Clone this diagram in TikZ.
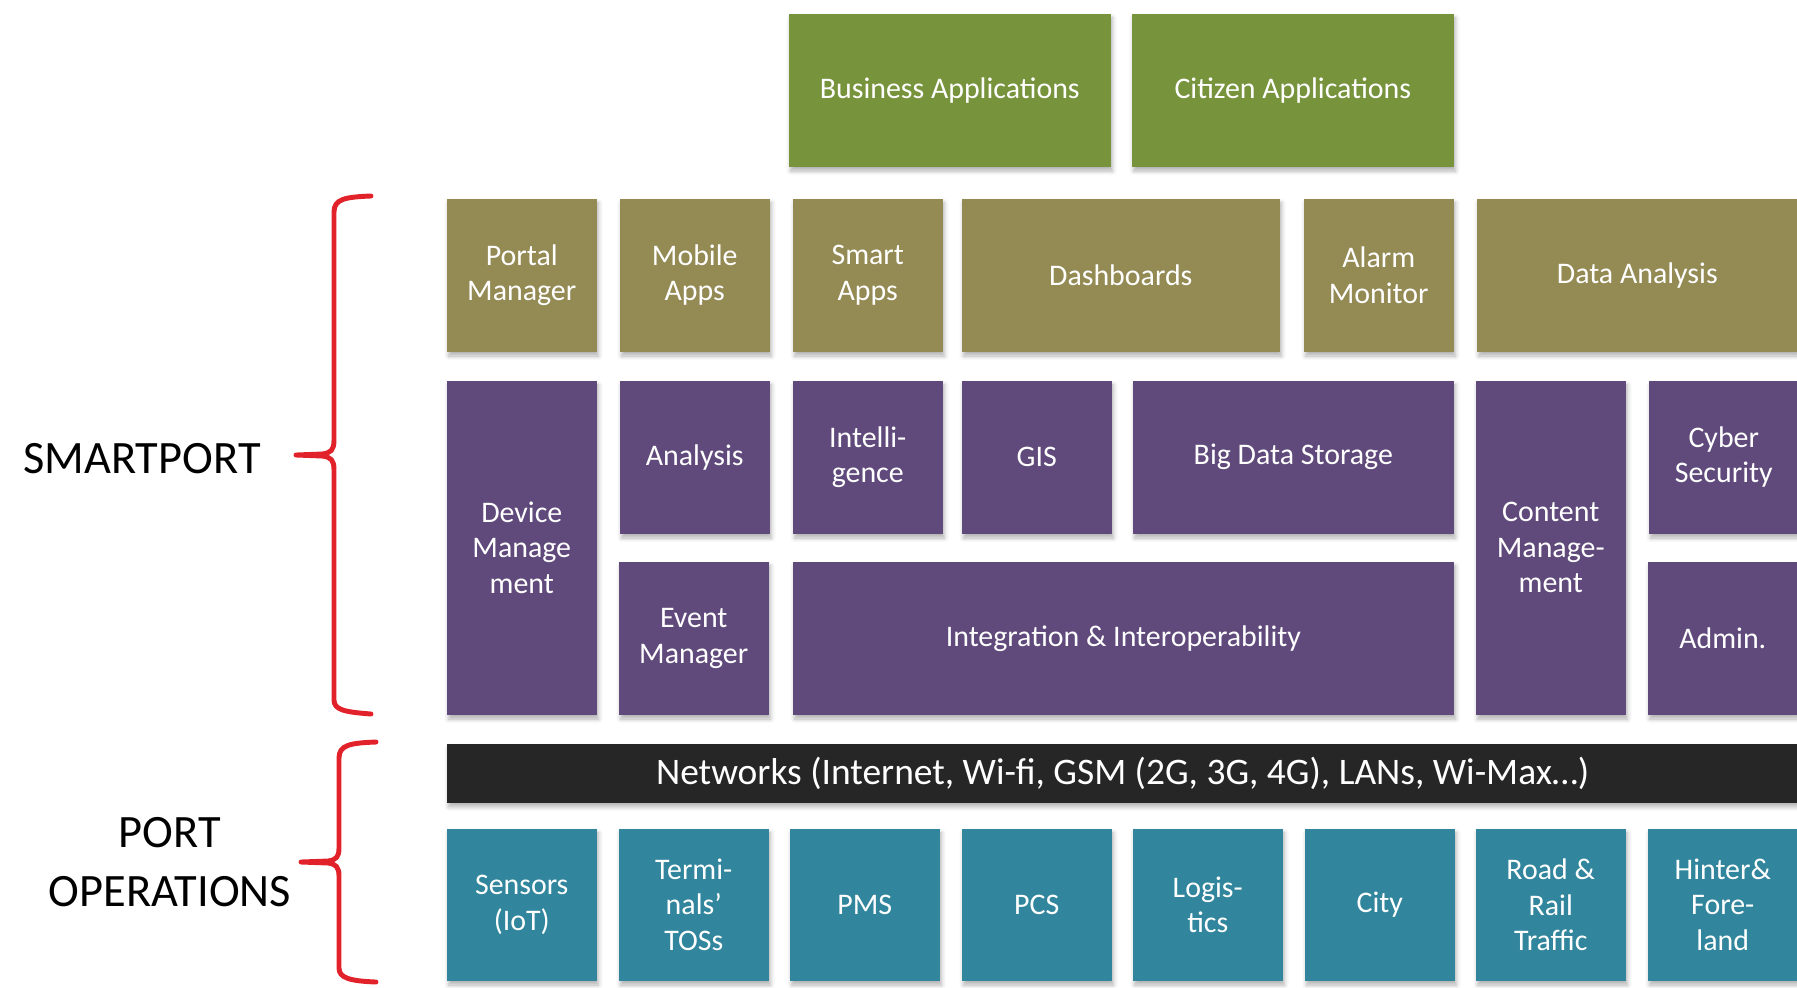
\documentclass[tikz,border=0pt]{standalone}
\usepackage{fontspec}
\setmainfont{Carlito}
\usetikzlibrary{shadows.blur}

\definecolor{appgreen}{HTML}{77933C}
\definecolor{uiolive}{HTML}{948A54}
\definecolor{corepurple}{HTML}{604A7B}
\definecolor{opsteal}{HTML}{31859C}
\definecolor{netdark}{HTML}{262626}
\definecolor{bracered}{HTML}{E2222A}

\newcommand{\tilefont}{\fontsize{8.5}{10.1}\selectfont}

\tikzset{
	tile/.style={anchor=north west, inner sep=0pt, align=center, text=white,
		font=\tilefont, minimum width=1.5cm, minimum height=1.53cm,
		blur shadow={shadow xshift=0.5pt, shadow yshift=-1.2pt, shadow blur radius=1.2pt, shadow opacity=30}},
	app/.style={tile, fill=appgreen, minimum width=3.22cm},
	ui/.style={tile, fill=uiolive},
	core/.style={tile, fill=corepurple},
	ops/.style={tile, fill=opsteal, minimum height=1.52cm},
	curly/.style={draw=bracered, line width=1.4pt, line join=round, line cap=round},
	layerlabel/.style={font=\fontsize{13.2}{16.6}\selectfont, align=center},
}

\begin{document}
\begin{tikzpicture}[x=0.01cm, y=-0.01cm]
	\useasboundingbox (0,0) rectangle (1797,987);

	% applications
	\node[app] (business) at (788,13) {Business Applications};
	\node[app] (citizen) at (1131,13) {Citizen Applications};

	% user interfaces
	\node[ui] (portal) at (446,198) {Portal\\Manager};
	\node[ui] (mobile) at (619,198) {Mobile\\Apps};
	\node[ui] (smartapps) at (792,198) {Smart\\Apps};
	\node[ui, minimum width=3.18cm] (dashboards) at (961,198) {Dashboards};
	\node[ui] (alarm) at (1303,198) {Alarm\\Monitor};
	\node[ui, minimum width=3.21cm] (dataan) at (1476,198) {Data Analysis};

	% platform
	\node[core, minimum height=3.34cm] (device) at (446,380) {Device\\Manage\\ment};
	\node[core] (analysis) at (619,380) {Analysis};
	\node[core] (intel) at (792,380) {Intelli-\\gence};
	\node[core] (gis) at (961,380) {GIS};
	\node[core, minimum width=3.21cm] (bigdata) at (1132,380) {Big Data Storage};
	\node[core, minimum height=3.34cm] (content) at (1475,380) {Content\\Manage-\\ment};
	\node[core] (cyber) at (1648,380) {Cyber\\Security};
	\node[core] (event) at (618,561) {Event\\Manager};
	\node[core, minimum width=6.61cm] (integ) at (792,561) {Integration \& Interoperability};
	\node[core] (admin) at (1647,561) {Admin.};

	% networks
	\node[tile, fill=netdark, minimum width=13.51cm, minimum height=0.59cm,
		font=\fontsize{10.65}{12.5}\selectfont] (net) at (446,743)
		{Networks (Internet, Wi-fi, GSM (2G, 3G, 4G), LANs, Wi-Max…)};

	% port operations
	\foreach \x/\nm/\txt in {446/sensors/{Sensors\\(IoT)}, 618/tos/{Termi-\\nals’\\TOSs},
		789/pms/PMS, 961/pcs/PCS, 1132/logis/{Logis-\\tics}, 1304/city/City,
		1475/road/{Road \&\\Rail\\Traffic}, 1647/hinter/{Hinter\&\\Fore-\\land}}
		\node[ops] (\nm) at (\x,828) {\txt};

	% braces
	\draw[curly] (371,196) .. controls (345,197) and (334,199) .. (334,212) -- (334,440)
		.. controls (334,450) and (331,453) .. (322,454) -- (296,455) -- (322,456)
		.. controls (331,457) and (334,460) .. (334,470) -- (334,700)
		.. controls (334,710) and (345,712) .. (371,714);
	\draw[curly] (376,742) .. controls (350,743) and (339,745) .. (339,758) -- (339,848)
		.. controls (339,857) and (336,860) .. (328,861) -- (301,862) -- (328,863)
		.. controls (336,864) and (339,867) .. (339,876) -- (339,968)
		.. controls (339,978) and (350,981) .. (376,982);

	\node[layerlabel, anchor=base] (smartport) at (142,473) {SMARTPORT};
	\node[layerlabel] (portops) at (170,862) {PORT\\OPERATIONS};
\end{tikzpicture}
\end{document}
